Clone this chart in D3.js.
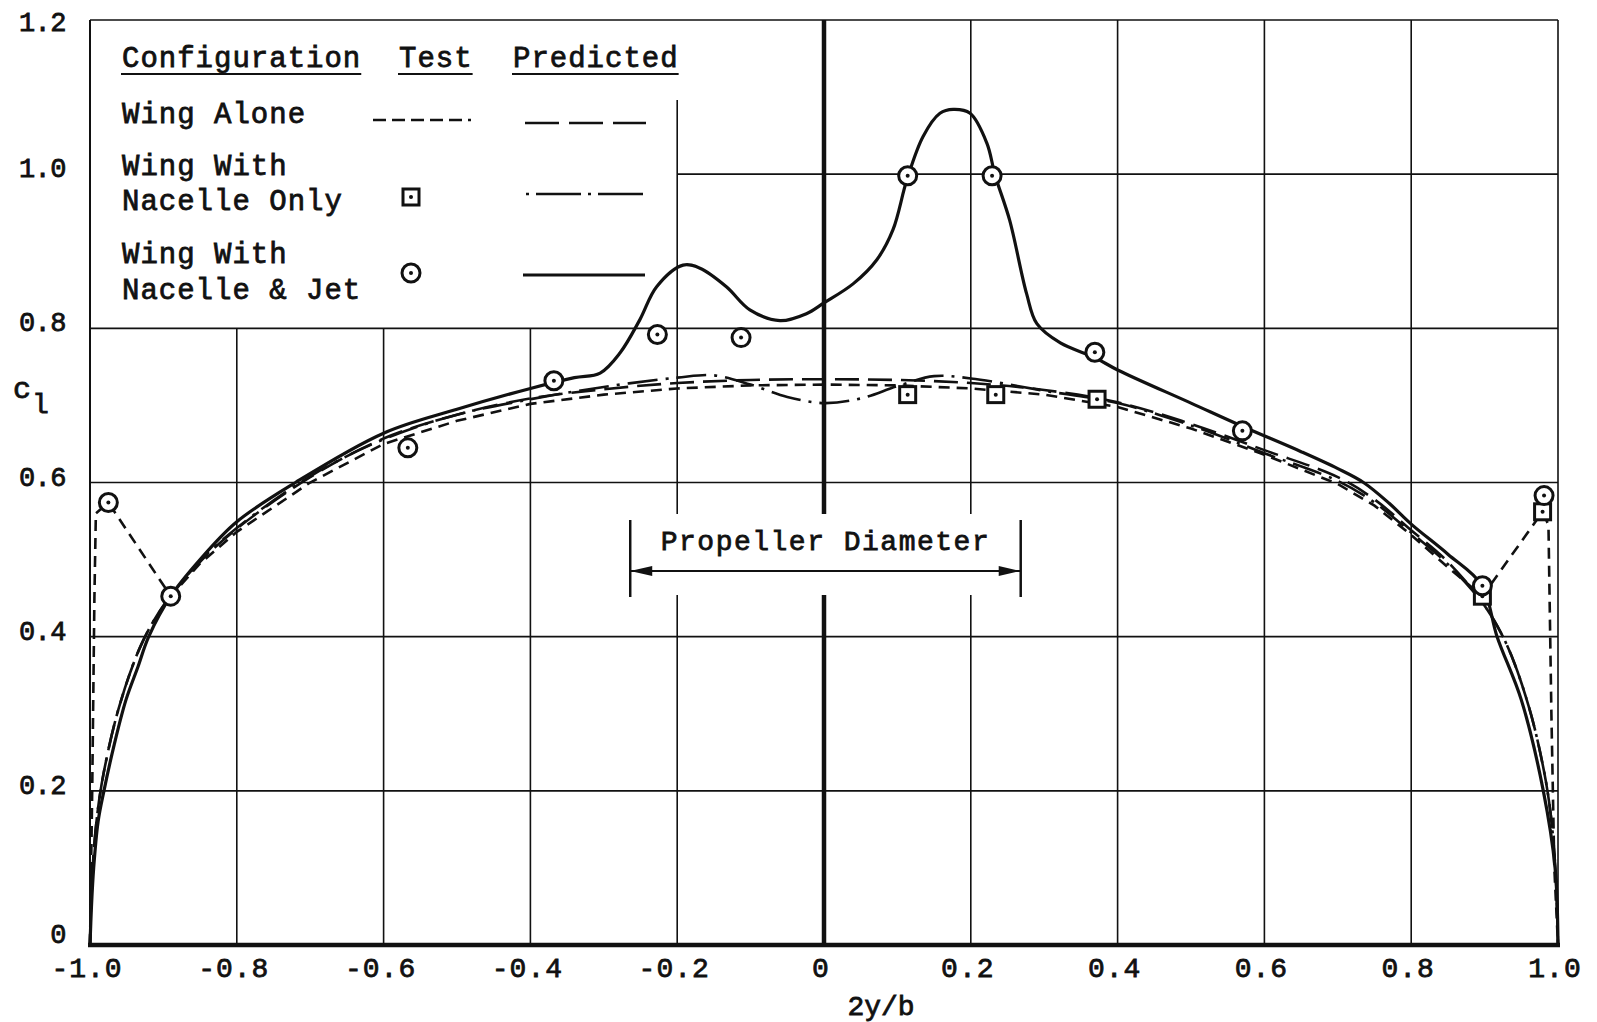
<!DOCTYPE html>
<html>
<head>
<meta charset="utf-8">
<script src="https://cdn.jsdelivr.net/npm/d3@7"></script>
<style>
  body { margin: 0; background: #fff; }
  svg { display: block; }
  text { font-family: "Liberation Mono", "DejaVu Sans Mono", monospace; fill: #111; stroke: #111; stroke-width: 0.8px; }
</style>
</head>
<body>
<svg id="chart" width="1597" height="1022"></svg>
<script>
// axis ticks
const xTicks = [-1.0, -0.8, -0.6, -0.4, -0.2, 0, 0.2, 0.4, 0.6, 0.8, 1.0];
const xTickLabels = ["-1.0", "-0.8", "-0.6", "-0.4", "-0.2", "0", "0.2", "0.4", "0.6", "0.8", "1.0"];
const yTicks = [0, 0.2, 0.4, 0.6, 0.8, 1.0, 1.2];
const yTickLabels = ["0", "0.2", "0.4", "0.6", "0.8", "1.0", "1.2"];

// Wing with nacelle & jet, predicted (solid)
const jetPredX = [-1.0, -0.998, -0.995, -0.989, -0.981, -0.967, -0.951, -0.935, -0.92, -0.89, -0.85, -0.8, -0.72, -0.6, -0.5, -0.4, -0.34, -0.305, -0.278, -0.251, -0.228, -0.192, -0.169, -0.133, -0.101, -0.06, -0.024, 0, 0.04, 0.072, 0.094, 0.113, 0.135, 0.158, 0.176, 0.199, 0.222, 0.233, 0.253, 0.276, 0.29, 0.322, 0.369, 0.4, 0.5, 0.572, 0.65, 0.7, 0.735, 0.77, 0.8, 0.85, 0.896, 0.917, 0.95, 0.98, 0.996, 1.0];
const jetPredCl = [0, 0.05, 0.1, 0.16, 0.2, 0.26, 0.318, 0.36, 0.4, 0.4525, 0.5, 0.549, 0.6, 0.664, 0.695, 0.722, 0.736, 0.742, 0.768, 0.811, 0.854, 0.882, 0.878, 0.854, 0.824, 0.81, 0.819, 0.833, 0.858, 0.889, 0.928, 0.993, 1.049, 1.079, 1.084, 1.079, 1.04, 0.999, 0.94, 0.845, 0.806, 0.781, 0.762, 0.746, 0.703, 0.672, 0.64, 0.618, 0.6, 0.573, 0.546, 0.507, 0.467, 0.4, 0.318, 0.2, 0.1, 0];

// Wing alone, predicted (long dash)
const alonePredX = [-1.0, -0.997, -0.99, -0.98, -0.96, -0.93, -0.9, -0.85, -0.8, -0.7, -0.6, -0.5, -0.4, -0.3, -0.2, -0.1, 0, 0.1, 0.2, 0.3, 0.4, 0.5, 0.6, 0.7, 0.75, 0.8, 0.85, 0.9, 0.93, 0.96, 0.98, 0.99, 0.997, 1.0];
const alonePredCl = [0, 0.09, 0.17, 0.23, 0.31, 0.39, 0.44, 0.497, 0.54, 0.607, 0.657, 0.688, 0.709, 0.721, 0.729, 0.733, 0.734, 0.733, 0.729, 0.72, 0.704, 0.676, 0.642, 0.607, 0.578, 0.538, 0.497, 0.44, 0.39, 0.31, 0.23, 0.17, 0.09, 0];

// Wing with nacelle only, predicted (dash-dot)
const nacPredX = [-1.0, -0.997, -0.99, -0.98, -0.96, -0.93, -0.9, -0.85, -0.8, -0.7, -0.6, -0.5, -0.4, -0.3, -0.2, -0.15, -0.1, -0.05, 0, 0.05, 0.1, 0.15, 0.2, 0.3, 0.4, 0.5, 0.6, 0.7, 0.75, 0.8, 0.85, 0.9, 0.93, 0.96, 0.98, 0.99, 0.997, 1.0];
const nacPredCl = [0, 0.09, 0.17, 0.23, 0.31, 0.39, 0.44, 0.498, 0.541, 0.608, 0.656, 0.688, 0.708, 0.724, 0.736, 0.739, 0.727, 0.711, 0.703, 0.709, 0.725, 0.738, 0.735, 0.719, 0.703, 0.674, 0.638, 0.602, 0.574, 0.535, 0.494, 0.44, 0.39, 0.31, 0.23, 0.17, 0.09, 0];

// Wing alone, test fairing (short dash)
const aloneTestX = [-1.0, -0.997, -0.994, -0.992, -0.975, -0.89, -0.85, -0.8, -0.7, -0.6, -0.5, -0.4, -0.3, -0.2, -0.1, 0, 0.1, 0.2, 0.3, 0.4, 0.5, 0.6, 0.7, 0.75, 0.8, 0.85, 0.897, 0.979, 0.987, 0.991, 0.995, 1.0];
const aloneTestCl = [0, 0.2, 0.45, 0.56, 0.574, 0.4525, 0.495, 0.536, 0.6, 0.65, 0.68, 0.702, 0.714, 0.722, 0.726, 0.727, 0.726, 0.722, 0.714, 0.698, 0.67, 0.636, 0.598, 0.57, 0.532, 0.49, 0.4525, 0.562, 0.545, 0.3, 0.1, 0];

// test points
const jetTestX = [-0.975, -0.89, -0.567, -0.368, -0.227, -0.113, 0.114, 0.229, 0.369, 0.570, 0.897, 0.981];
const jetTestCl = [0.574, 0.4525, 0.645, 0.732, 0.792, 0.788, 0.998, 0.998, 0.769, 0.667, 0.466, 0.583];
const nacTestX = [0.114, 0.234, 0.372, 0.897, 0.979];
const nacTestCl = [0.714, 0.714, 0.708, 0.4525, 0.562];

// propeller diameter extent
const propExtent = [-0.264, 0.268];

const legendHeaders = ["Configuration", "Test", "Predicted"];
const legendRows = [["Wing Alone"], ["Wing With", "Nacelle Only"], ["Wing With", "Nacelle & Jet"]];

const svg = d3.select("#chart");
const ink = "#111";

const x = d3.scaleLinear().domain([-1, 1]).range([90, 1558]);
const y = d3.scaleLinear().domain([0, 1.2]).range([945, 20]);

const grid = svg.append("g").attr("stroke", ink).attr("stroke-width", 1.6);

// horizontal grid lines (1.0 line starts at the -0.2 station, legend sits left of it)
yTicks.forEach(v => {
    if (v === 0) return;
    const x0 = v === 1.0 ? x(-0.2) : x(-1);
    grid.append("line").attr("x1", x0).attr("x2", x(1)).attr("y1", y(v)).attr("y2", y(v));
});

// vertical grid lines
xTicks.forEach(v => {
    let top = y(1.2);
    if (v > -1 && v < -0.2) top = y(0.8);
    if (v === -0.2) top = 100;
    grid.append("line").attr("x1", x(v)).attr("x2", x(v)).attr("y1", top).attr("y2", y(0))
        .attr("stroke-width", v === 0 ? 4.5 : (v === -1 ? 2 : 1.6));
});

// bottom axis
svg.append("line").attr("x1", x(-1) - 2).attr("x2", x(1) + 2).attr("y1", y(0)).attr("y2", y(0))
    .attr("stroke", ink).attr("stroke-width", 4.5);

// blank area behind propeller label
svg.append("rect").attr("x", x(propExtent[0]) + 10).attr("width", x(propExtent[1]) - x(propExtent[0]) - 20)
    .attr("y", 514).attr("height", 81).attr("fill", "#fff");

// curves
const line = d3.line().x(d => x(d[0])).y(d => y(d[1])).curve(d3.curveCatmullRom.alpha(0.5));
const lineLin = d3.line().x(d => x(d[0])).y(d => y(d[1]));
const zip = (a, b) => a.map((v, i) => [v, b[i]]);

svg.append("path").attr("d", lineLin(zip(aloneTestX, aloneTestCl)))
    .attr("fill", "none").attr("stroke", ink).attr("stroke-width", 2.6).attr("stroke-dasharray", "11,7");
svg.append("path").attr("d", line(zip(alonePredX, alonePredCl)))
    .attr("fill", "none").attr("stroke", ink).attr("stroke-width", 2.6).attr("stroke-dasharray", "24,9");
svg.append("path").attr("d", line(zip(nacPredX, nacPredCl)))
    .attr("fill", "none").attr("stroke", ink).attr("stroke-width", 2.6).attr("stroke-dasharray", "30,8,3,8");
svg.append("path").attr("d", line(zip(jetPredX, jetPredCl)))
    .attr("fill", "none").attr("stroke", ink).attr("stroke-width", 3.2);

// markers
function circleMark(g, cx, cy) {
    g.append("circle").attr("cx", cx).attr("cy", cy).attr("r", 9)
        .attr("fill", "#fff").attr("stroke", ink).attr("stroke-width", 3);
    g.append("circle").attr("cx", cx).attr("cy", cy).attr("r", 2).attr("fill", ink);
}
function squareMark(g, cx, cy) {
    g.append("rect").attr("x", cx - 8).attr("y", cy - 8).attr("width", 16).attr("height", 16)
        .attr("fill", "#fff").attr("stroke", ink).attr("stroke-width", 3);
    g.append("circle").attr("cx", cx).attr("cy", cy).attr("r", 2).attr("fill", ink);
}
const marks = svg.append("g");
nacTestX.forEach((v, i) => squareMark(marks, x(v), y(nacTestCl[i])));
jetTestX.forEach((v, i) => circleMark(marks, x(v), y(jetTestCl[i])));

// tick labels
svg.append("g").selectAll("text").data(yTicks).join("text")
    .attr("x", 66).attr("y", d => Math.max(y(d) + 3, 31) - (d === 0 ? 5 : 0))
    .attr("text-anchor", "end").attr("font-size", 27).attr("letter-spacing", -0.5)
    .text((d, i) => yTickLabels[i]);
svg.append("g").selectAll("text").data(xTicks).join("text")
    .attr("x", d => x(d) - 3).attr("y", 977)
    .attr("text-anchor", "middle").attr("font-size", 28).attr("letter-spacing", 1)
    .text((d, i) => xTickLabels[i]);

// axis titles
svg.append("text").attr("x", 881).attr("y", 1015).attr("text-anchor", "middle")
    .attr("font-size", 28).text("2y/b");
svg.append("text").attr("x", 13).attr("y", 398).attr("font-size", 30).text("c");
svg.append("text").attr("x", 32).attr("y", 413).attr("font-size", 28).text("l");

// propeller diameter annotation
const pa = svg.append("g").attr("stroke", ink).attr("stroke-width", 2.5);
propExtent.forEach(v => pa.append("line").attr("x1", x(v)).attr("x2", x(v)).attr("y1", 520).attr("y2", 597));
pa.append("line").attr("x1", x(propExtent[0])).attr("x2", x(propExtent[1])).attr("y1", 571).attr("y2", 571)
    .attr("stroke-width", 2);
svg.append("path")
    .attr("d", `M${x(propExtent[0])},571 l22,-5 l0,10 Z M${x(propExtent[1])},571 l-22,-5 l0,10 Z`)
    .attr("fill", ink);
svg.append("text").attr("x", (x(propExtent[0]) + x(propExtent[1])) / 2).attr("y", 550)
    .attr("text-anchor", "middle").attr("font-size", 28).attr("letter-spacing", 1.5)
    .text("Propeller Diameter");

// legend
const lg = svg.append("g").attr("font-size", 29);
const headX = [122, 399, 513];
legendHeaders.forEach((h, i) => {
    const t = lg.append("text").attr("x", headX[i]).attr("y", 67).attr("letter-spacing", 1).text(h);
    const w = t.node().getComputedTextLength();
    lg.append("line").attr("x1", headX[i] - 1).attr("x2", headX[i] + w).attr("y1", 74).attr("y2", 74)
        .attr("stroke", ink).attr("stroke-width", 2.2);
});
const rowBase = [[123], [175, 210], [263, 299]];
legendRows.forEach((r, i) => {
    r.forEach((s, j) => lg.append("text").attr("x", 122).attr("y", rowBase[i][j]).attr("letter-spacing", 1).text(s));
});
// legend samples
lg.append("line").attr("x1", 373).attr("x2", 471).attr("y1", 120).attr("y2", 120)
    .attr("stroke", ink).attr("stroke-width", 2.6).attr("stroke-dasharray", "13,6");
lg.append("line").attr("x1", 525).attr("x2", 646).attr("y1", 123).attr("y2", 123)
    .attr("stroke", ink).attr("stroke-width", 2.6).attr("stroke-dasharray", "34,10");
squareMark(lg, 411, 197);
lg.append("line").attr("x1", 526).attr("x2", 648).attr("y1", 194).attr("y2", 194)
    .attr("stroke", ink).attr("stroke-width", 2.6).attr("stroke-dasharray", "3,7,45,7");
circleMark(lg, 411, 273);
lg.append("line").attr("x1", 523).attr("x2", 645).attr("y1", 275).attr("y2", 275)
    .attr("stroke", ink).attr("stroke-width", 3);
</script>
</body>
</html>
